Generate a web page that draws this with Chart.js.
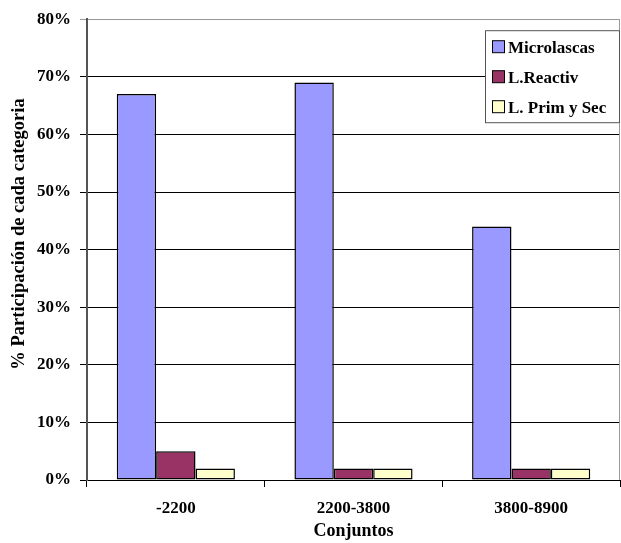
<!DOCTYPE html>
<html>
<head>
<meta charset="utf-8">
<script src="https://cdn.jsdelivr.net/npm/chart.js@4.4.1/dist/chart.umd.min.js"></script>
<style>
  html, body { margin: 0; padding: 0; background: #ffffff; }
  #wrap { width: 621px; height: 543px; position: relative; }
</style>
</head>
<body>
<div id="wrap"><canvas id="chart" width="621" height="543"></canvas></div>
<script>
// Categories (time ranges) and share of each lithic category, in percent
const conjuntos = ['-2200', '2200-3800', '3800-8900'];
const microlascas = [67, 69, 44];
const lReactiv = [5, 2, 2];
const lPrimSec = [2, 2, 2];
const seriesNames = ['Microlascas', 'L.Reactiv', 'L. Prim y Sec'];
const yTicks = [0, 10, 20, 30, 40, 50, 60, 70, 80];
const yTitle = '% Participación de cada categoria';

const SERIF = '"Liberation Serif", "Times New Roman", serif';

// Legend box drawn inside the plot's upper-right corner
const boxLegend = {
  id: 'boxLegend',
  afterDraw(chart) {
    const ctx = chart.ctx;
    const area = chart.chartArea;
    const x0 = area.right - 135, y0 = area.top + 11, w = 135, h = 93;
    ctx.save();
    ctx.fillStyle = '#ffffff';
    ctx.fillRect(x0, y0, w, h);
    ctx.strokeStyle = '#555555';
    ctx.lineWidth = 1;
    ctx.strokeRect(x0 + 0.5, y0 + 0.5, w - 1, h - 1);
    ctx.font = 'bold 17px ' + SERIF;
    ctx.textBaseline = 'middle';
    ctx.textAlign = 'left';
    chart.data.datasets.forEach((ds, i) => {
      const cy = y0 + 17 + i * 30;
      ctx.fillStyle = ds.backgroundColor;
      ctx.fillRect(x0 + 7.5, cy - 6.5, 12, 12);
      ctx.strokeStyle = '#000000';
      ctx.strokeRect(x0 + 7.5, cy - 6.5, 12, 12);
      ctx.fillStyle = '#000000';
      ctx.fillText(ds.label, x0 + 23, cy + 1);
    });
    ctx.restore();
  }
};

// Gray right edge of the plot and the rotated y-axis title
const plotFrame = {
  id: 'plotFrame',
  beforeDatasetsDraw(chart) {
    const ctx = chart.ctx;
    const a = chart.chartArea;
    ctx.save();
    ctx.strokeStyle = '#999999';
    ctx.lineWidth = 1;
    ctx.beginPath();
    ctx.moveTo(a.right - 0.5, a.top);
    ctx.lineTo(a.right - 0.5, a.bottom);
    ctx.stroke();
    ctx.translate(19, 234);
    ctx.rotate(-Math.PI / 2);
    ctx.font = 'bold 18.5px ' + SERIF;
    ctx.fillStyle = '#000000';
    ctx.textAlign = 'center';
    ctx.textBaseline = 'middle';
    ctx.fillText(yTitle, 0, 0);
    ctx.restore();
  }
};

const barStyle = { borderColor: '#000000', borderWidth: 1.5, borderSkipped: false };

new Chart(document.getElementById('chart'), {
  type: 'bar',
  data: {
    labels: conjuntos,
    datasets: [
      Object.assign({ label: seriesNames[0], data: microlascas, backgroundColor: '#9999ff' }, barStyle),
      Object.assign({ label: seriesNames[1], data: lReactiv, backgroundColor: '#993366' }, barStyle),
      Object.assign({ label: seriesNames[2], data: lPrimSec, backgroundColor: '#ffffcc' }, barStyle)
    ]
  },
  options: {
    responsive: false,
    animation: false,
    layout: { padding: { top: 19, right: 1, left: 0, bottom: 0 } },
    datasets: { bar: { categoryPercentage: 0.665, barPercentage: 1.0 } },
    plugins: { legend: { display: false }, tooltip: { enabled: false } },
    scales: {
      x: {
        offset: true,
        grid: { offset: true, drawOnChartArea: false, drawTicks: true, tickLength: 7, color: '#000000', lineWidth: 1 },
        border: { display: true, color: '#000000', width: 1 },
        ticks: { color: '#000000', padding: 11, font: { family: SERIF, size: 17, weight: 'bold' } },
        title: { display: true, text: 'Conjuntos', color: '#000000', padding: { top: 0, bottom: 1 }, font: { family: SERIF, size: 18, weight: 'bold' } },
        afterFit(scale) { scale.height = 63; }
      },
      y: {
        min: 0, max: 80,
        afterBuildTicks(scale) { scale.ticks = yTicks.map(v => ({ value: v })); },
        grid: {
          drawTicks: true, tickLength: 7, lineWidth: 1,
          color: ctx => (ctx.tick && ctx.tick.value === 80 ? '#999999' : '#000000')
        },
        border: { display: true, color: '#555555', width: 2 },
        ticks: {
          color: '#000000', padding: 9,
          font: { family: SERIF, size: 17, weight: 'bold' },
          callback: v => v + '%'
        },
        afterFit(scale) { scale.width = 87; }
      }
    }
  },
  plugins: [plotFrame, boxLegend]
});
</script>
</body>
</html>
